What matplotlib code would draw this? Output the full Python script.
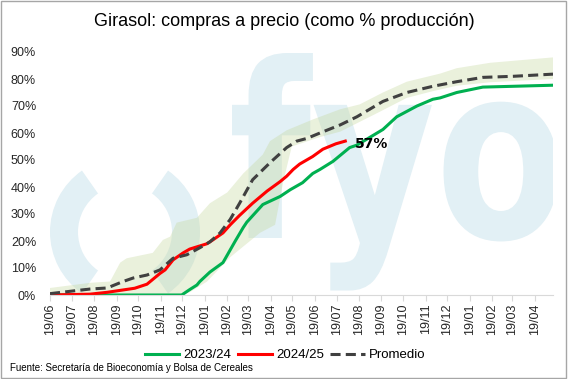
import numpy as np
import pandas as pd
import matplotlib
matplotlib.use("Agg")
import matplotlib.pyplot as plt
import matplotlib.dates as mdates
from matplotlib.patches import Wedge, PathPatch, Rectangle
from matplotlib.textpath import TextPath
from matplotlib.font_manager import FontProperties
from matplotlib.transforms import Affine2D

# valores, sobre un calendario comun de campaña (desde el 19/06)
fechas_2324 = ["2023-06-19", "2023-12-18", "2023-12-29", "2024-01-08", "2024-01-12", "2024-01-26",
               "2024-02-13", "2024-03-01", "2024-03-12", "2024-03-17", "2024-04-08", "2024-05-02",
               "2024-05-16", "2024-06-02", "2024-06-16", "2024-06-26", "2024-07-14", "2024-08-06",
               "2024-08-16", "2024-09-03", "2024-09-21", "2024-10-10", "2024-10-24", "2024-11-07",
               "2024-11-29", "2024-12-09", "2025-01-01", "2025-02-06", "2025-03-20", "2025-05-14"]
vals_2324 = [0, 0, 2, 3.7, 5, 8.5,
             12, 20, 25, 27, 33.5, 36.5,
             39, 41.6, 45, 46.5, 49.5, 54.6,
             55.5, 58.4, 61.3, 66, 68, 70,
             72.5, 73, 75, 77, 77.3, 77.7]

fechas_2425 = ["2023-06-19", "2023-08-13", "2023-09-06", "2023-10-14", "2023-10-31", "2023-11-18",
               "2023-11-25", "2023-12-06", "2023-12-20", "2023-12-29", "2024-01-22", "2024-01-30",
               "2024-02-13", "2024-02-23", "2024-03-07", "2024-03-25", "2024-04-14", "2024-05-02",
               "2024-05-11", "2024-05-20", "2024-05-29", "2024-06-16", "2024-06-30", "2024-07-18",
               "2024-07-31"]
vals_2425 = [0, 0.3, 1, 2.5, 4, 8,
             9.3, 13, 15.6, 17, 19, 20.4,
             23, 26, 29.5, 34, 38.5, 42,
             44, 46.5, 48.5, 51.3, 54, 56,
             57]

fechas_prom = ["2023-06-19", "2023-07-21", "2023-08-13", "2023-09-06", "2023-09-28", "2023-10-12",
               "2023-10-31", "2023-11-18", "2023-12-06", "2023-12-25", "2024-01-12", "2024-01-26",
               "2024-02-09", "2024-02-23", "2024-03-07", "2024-03-25", "2024-04-18", "2024-05-11",
               "2024-05-25", "2024-06-08", "2024-06-26", "2024-07-24", "2024-08-16", "2024-09-21",
               "2024-10-24", "2024-11-29", "2025-01-01", "2025-02-06", "2025-03-20", "2025-05-14"]
vals_prom = [0.5, 1.5, 2.2, 2.6, 5, 6.3,
             7.4, 9.3, 13.6, 14.9, 17.5, 19.7,
             23, 28, 34, 42.7, 49, 54.6,
             57, 58, 60, 63, 66, 71.7,
             75, 77.3, 79, 80.6, 81, 81.8]

# rango historico (sombreado)
fechas_max = ["2023-06-19", "2023-08-13", "2023-09-10", "2023-09-24", "2023-10-03", "2023-11-08",
              "2023-11-22", "2023-12-02", "2023-12-11", "2024-01-08", "2024-01-26", "2024-02-19",
              "2024-03-12", "2024-04-08", "2024-04-18", "2024-05-11", "2024-06-16", "2024-07-24",
              "2024-08-20", "2024-09-21", "2024-10-24", "2024-12-09", "2025-01-01", "2025-02-16",
              "2025-05-14"]
vals_max = [2.6, 4.5, 5, 12, 13.6, 15.6,
            20.4, 21.6, 26.8, 28.6, 34, 38,
            45, 52, 57, 61, 65, 68.8,
            70.6, 75, 79, 82, 84, 86,
            88]
fechas_min = ["2023-06-19", "2023-12-16", "2023-12-29", "2024-01-22", "2024-02-23", "2024-04-04",
              "2024-04-25", "2024-05-06", "2024-05-18", "2024-06-26", "2024-07-24", "2024-09-14",
              "2024-10-24", "2024-11-29", "2025-01-01", "2025-02-16", "2025-05-14"]
vals_min = [0, 0, 1, 5, 14, 23,
            26, 41.6, 55, 58.5, 60.5, 67.5,
            73, 75.5, 77.5, 78.8, 80]

verde = "#00b050"
rojo = "#ff0000"
gris = "#404040"
marca_agua = "#e2f0f5"

W, H = 568, 379
fig = plt.figure(figsize=(W / 100, H / 100), dpi=100)
pos = [50 / W, 1 - 295 / H, 503 / W, 243 / H]

# marca de agua del fondo, en pixeles
wm = fig.add_axes(pos, zorder=0)
wm.set_xlim(50, 553)
wm.set_ylim(295, 52)
wm.axis("off")
wm.add_patch(Wedge((125, 232), 75, 125, 235, width=28, fc=marca_agua, ec="none"))
wm.add_patch(Wedge((125, 232), 75, -55, 55, width=28, fc=marca_agua, ec="none"))
tp = TextPath((0, 0), "fyo", size=100, prop=FontProperties(family="DejaVu Sans", weight="bold"))
ext = tp.get_extents()
sx = (558 - 232) / (ext.x1 - ext.x0)
sy = (238 - 53) / ext.y1
tr = Affine2D().translate(-ext.x0, 0).scale(sx, -sy).translate(232, 238)
wm.add_patch(PathPatch(tr.transform_path(tp), fc=marca_agua, ec="none"))

ax = fig.add_axes(pos, zorder=1)
ax.patch.set_visible(False)

d_max = pd.to_datetime(fechas_max).values
d_min = pd.to_datetime(fechas_min).values
ax.fill(np.concatenate([d_max, d_min[::-1]]), np.concatenate([vals_max, vals_min[::-1]]),
        fc="#c4d79b", alpha=0.35, ec="none")

ax.plot(pd.to_datetime(fechas_2324), vals_2324, color=verde, lw=2.2, label="2023/24")
ax.plot(pd.to_datetime(fechas_2425), vals_2425, color=rojo, lw=2.2, label="2024/25")
ax.plot(pd.to_datetime(fechas_prom), vals_prom, color=gris, lw=2.2, dashes=(3.3, 1.7), label="Promedio")

ax.annotate(f"{vals_2425[-1]:.0f}%", xy=(pd.Timestamp(fechas_2425[-1]), vals_2425[-1]),
            xytext=(7, -2), textcoords="offset points", va="center", ha="left",
            fontsize=10, fontweight="bold", color="black")

ax.set_xlim(pd.Timestamp("2023-06-19"), pd.Timestamp("2025-05-14"))
ax.set_ylim(0, 90)
ax.set_yticks(range(0, 91, 10))
ax.yaxis.set_major_formatter(lambda v, p: f"{v:.0f}%")
ax.xaxis.set_major_locator(mdates.MonthLocator(bymonthday=19))
ax.xaxis.set_major_formatter(mdates.DateFormatter("%d/%m"))

for s in ["top", "right", "left"]:
    ax.spines[s].set_visible(False)
ax.spines["bottom"].set_color("#d9d9d9")
ax.tick_params(axis="x", length=4, color="#d9d9d9", pad=2, labelrotation=90, labelsize=9,
               labelcolor="#262626")
ax.tick_params(axis="y", length=0, pad=10, labelsize=9, labelcolor="#262626")
for lab in ax.get_xticklabels() + ax.get_yticklabels():
    lab.set_family(["Liberation Sans", "DejaVu Sans"])

fig.text(0.5, 1 - 22 / H, "Girasol: compras a precio (como % producción)", ha="center", va="center",
         fontsize=13, family=["Liberation Sans", "DejaVu Sans"])
fig.legend(loc="center", bbox_to_anchor=(0.502, 1 - 355 / H), ncol=3, frameon=False,
           prop={"family": ["Liberation Sans", "DejaVu Sans"], "size": 9.5},
           handlelength=2.6, columnspacing=0.5, handletextpad=0.3)
fig.text(10 / W, 1 - 368 / H, "Fuente: Secretaría de Bioeconomía y Bolsa de Cereales", ha="left",
         va="center", fontsize=7, family=["Liberation Sans", "DejaVu Sans"])

fig.patches.append(Rectangle((0.5 / W, 1 - 377.5 / H), 565 / W, 377 / H, transform=fig.transFigure,
                             fill=False, ec="#a6a6a6", lw=1))

fig.savefig("out.png", dpi=100)
